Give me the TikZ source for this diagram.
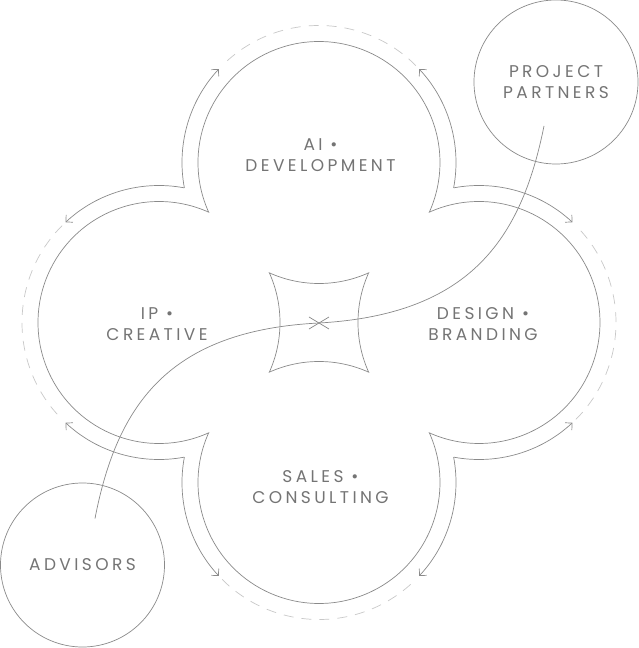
\documentclass[tikz,border=0pt]{standalone}
\usepackage{fontspec}
\newfontfamily\lblfont{Poppins}[LetterSpace=20]
\usetikzlibrary{arrows.meta}
\definecolor{linegray}{HTML}{8A8A8A}
\definecolor{txtgray}{HTML}{747474}
\definecolor{dashgray}{HTML}{C8C8C8}
\tikzset{
  cloud/.style={draw=linegray, line width=0.7pt},
  band/.style={draw=linegray, line width=0.7pt, -{Straight Barb[length=5pt,width=10pt]}},
  dashband/.style={draw=dashgray, line width=0.7pt, dash pattern=on 10pt off 8pt},
  conn/.style={draw=linegray, line width=0.7pt},
  lbl/.style={font=\lblfont\fontsize{17}{21}\selectfont, text=txtgray, align=center, inner sep=0pt},
  sat/.style={circle, draw=linegray, line width=0.7pt, minimum size=164pt, inner sep=0pt, lbl}
}
\begin{document}
\begin{tikzpicture}[x=1pt,y=1pt]
\useasboundingbox (-319,-325.5) rectangle (319,322.5);
% outer outline of the four-lobed cloud
\draw[cloud] (-110.34,110.34)
  arc[start angle=204.23, end angle=-24.23, radius=121]
  arc[start angle=114.23, end angle=-114.23, radius=121]
  arc[start angle=24.23, end angle=-204.23, radius=121]
  arc[start angle=-65.77, end angle=-294.23, radius=121] -- cycle;
% central hole
\draw[cloud] (-49.66,49.66)
  arc[start angle=-114.23, end angle=-65.77, radius=121]
  arc[start angle=155.77, end angle=204.23, radius=121]
  arc[start angle=65.77, end angle=114.23, radius=121]
  arc[start angle=-24.23, end angle=24.23, radius=121] -- cycle;
% outer bands with arrows
\foreach \k in {0,1,2,3}{
  \begin{scope}[rotate=\k*90]
    \draw[band] (0,160) ++(190.67:137) arc[start angle=190.67, end angle=137, radius=137];
    \draw[band] (0,160) ++(-10.67:137) arc[start angle=-10.67, end angle=43, radius=137];
    \draw[dashband] (0,160) ++(45:137) arc[start angle=45, end angle=135, radius=137];
  \end{scope}
}
% labels
\node[lbl] (ai) at (1.5,167) {AI •\\DEVELOPMENT};
\node[lbl] (ip) at (-162,-2) {IP •\\CREATIVE};
\node[lbl] (design) at (164,-2) {DESIGN •\\BRANDING};
\node[lbl] (sales) at (1.5,-164.5) {SALES •\\CONSULTING};
% satellites
\node[sat] (partners) at (237,240.5) {PROJECT\\PARTNERS};
\node[sat] (advisors) at (-236.5,-242.5) {ADVISORS};
% connector
\coordinate (mid) at (0,-0.5);
\coordinate (pstart) at (225,196.5);
\coordinate (astart) at (-224,-196);
\draw[conn] (astart) .. controls (-202,-82) and (-150,-8) .. (mid)
  .. controls (150,8) and (202,82) .. (pstart);
\draw[conn] (mid) +(-10,-6) -- +(10,6) +(-10,6) -- +(10,-6);
\end{tikzpicture}
\end{document}
